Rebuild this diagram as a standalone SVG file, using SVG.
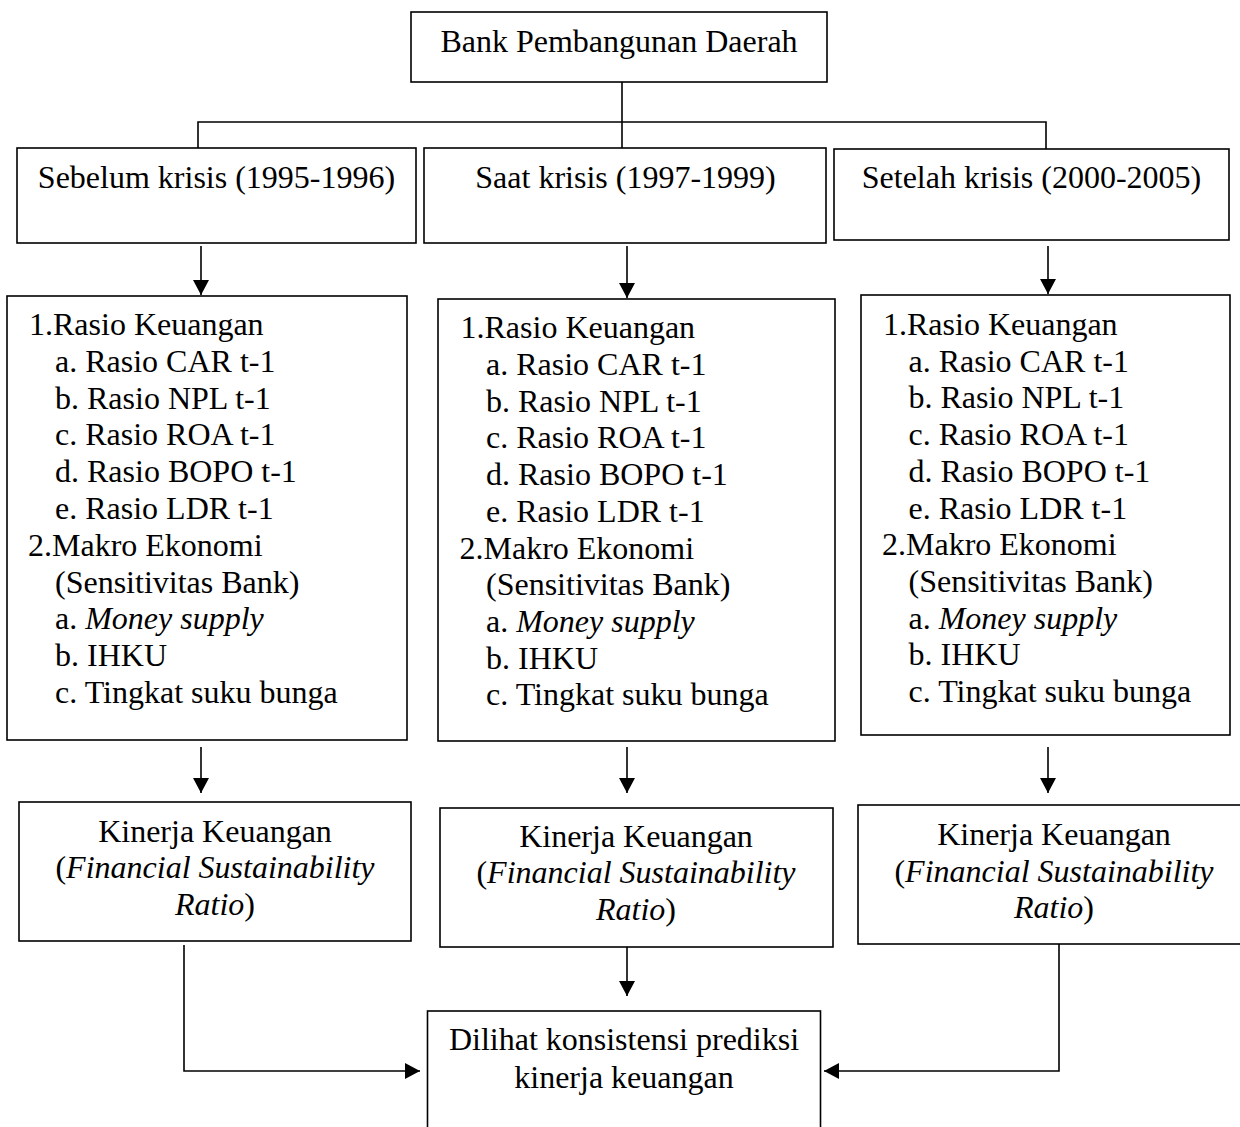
<svg xmlns="http://www.w3.org/2000/svg" width="1240" height="1127" viewBox="0 0 1240 1127">
<style>
  .box { fill: #ffffff; stroke: #000000; stroke-width: 1.6; }
  .t { font-family: "Liberation Serif", "Times New Roman", serif; font-size: 32px; fill: #000000; }
  .c { text-anchor: middle; }
  .i { font-style: italic; }
  .ln { fill: none; stroke: #000000; stroke-width: 1.6; }
</style>
<defs>
  <marker id="arr" viewBox="0 0 15 16" markerUnits="userSpaceOnUse" markerWidth="15" markerHeight="16" refX="15" refY="8" orient="auto">
    <path d="M0,0 L15,8 L0,16 z" fill="#000000"/>
  </marker>
</defs>
<rect width="1240" height="1127" fill="#ffffff"/>

<g id="connectors">
  <path class="ln" d="M622,82 V148"/>
  <path class="ln" d="M198,148 V122 H1046 V149"/>
  <path class="ln" d="M201,246 V295" marker-end="url(#arr)"/>
  <path class="ln" d="M627,246 V298" marker-end="url(#arr)"/>
  <path class="ln" d="M1048,246 V294" marker-end="url(#arr)"/>
  <path class="ln" d="M201,747 V793" marker-end="url(#arr)"/>
  <path class="ln" d="M627,747 V793" marker-end="url(#arr)"/>
  <path class="ln" d="M1048,747 V793" marker-end="url(#arr)"/>
  <path class="ln" d="M627,947 V996" marker-end="url(#arr)"/>
  <path class="ln" d="M184,945 V1071 H420" marker-end="url(#arr)"/>
  <path class="ln" d="M1059,944 V1071 H824" marker-end="url(#arr)"/>
</g>

<g id="bank">
  <rect class="box" x="411" y="12" width="416" height="70"/>
  <text class="t c" x="619" y="52">Bank Pembangunan Daerah</text>
</g>

<g id="sebelum">
  <rect class="box" x="17" y="148" width="399" height="95"/>
  <text class="t c" x="216.5" y="188">Sebelum krisis (1995-1996)</text>
</g>
<g id="saat">
  <rect class="box" x="424" y="148" width="402" height="95"/>
  <text class="t c" x="625.5" y="188">Saat krisis (1997-1999)</text>
</g>
<g id="setelah">
  <rect class="box" x="834" y="149" width="395" height="91"/>
  <text class="t c" x="1031.5" y="188">Setelah krisis (2000-2005)</text>
</g>

<g id="var-sebelum">
  <rect class="box" x="7" y="296" width="400" height="444"/>
  <text class="t" x="29" y="335">1.Rasio Keuangan</text>
  <text class="t" x="55" y="371.8">a. Rasio CAR t-1</text>
  <text class="t" x="55" y="408.6">b. Rasio NPL t-1</text>
  <text class="t" x="55" y="445.4">c. Rasio ROA t-1</text>
  <text class="t" x="55" y="482.2">d. Rasio BOPO t-1</text>
  <text class="t" x="55" y="519">e. Rasio LDR t-1</text>
  <text class="t" x="28" y="555.8">2.Makro Ekonomi</text>
  <text class="t" x="55" y="592.6">(Sensitivitas Bank)</text>
  <text class="t" x="55" y="629.4">a. <tspan class="i">Money supply</tspan></text>
  <text class="t" x="55" y="666.2">b. IHKU</text>
  <text class="t" x="55" y="703">c. Tingkat suku bunga</text>
</g>

<g id="var-saat">
  <rect class="box" x="438" y="299" width="397" height="442"/>
  <text class="t" x="460.5" y="338.3">1.Rasio Keuangan</text>
  <text class="t" x="486" y="375">a. Rasio CAR t-1</text>
  <text class="t" x="486" y="411.7">b. Rasio NPL t-1</text>
  <text class="t" x="486" y="448.4">c. Rasio ROA t-1</text>
  <text class="t" x="486" y="485.1">d. Rasio BOPO t-1</text>
  <text class="t" x="486" y="521.8">e. Rasio LDR t-1</text>
  <text class="t" x="459.5" y="558.5">2.Makro Ekonomi</text>
  <text class="t" x="486" y="595.2">(Sensitivitas Bank)</text>
  <text class="t" x="486" y="631.9">a. <tspan class="i">Money supply</tspan></text>
  <text class="t" x="486" y="668.6">b. IHKU</text>
  <text class="t" x="486" y="705.3">c. Tingkat suku bunga</text>
</g>

<g id="var-setelah">
  <rect class="box" x="861" y="295" width="369" height="440"/>
  <text class="t" x="883" y="335">1.Rasio Keuangan</text>
  <text class="t" x="908.5" y="371.7">a. Rasio CAR t-1</text>
  <text class="t" x="908.5" y="408.4">b. Rasio NPL t-1</text>
  <text class="t" x="908.5" y="445.1">c. Rasio ROA t-1</text>
  <text class="t" x="908.5" y="481.8">d. Rasio BOPO t-1</text>
  <text class="t" x="908.5" y="518.5">e. Rasio LDR t-1</text>
  <text class="t" x="882" y="555.2">2.Makro Ekonomi</text>
  <text class="t" x="908.5" y="591.9">(Sensitivitas Bank)</text>
  <text class="t" x="908.5" y="628.6">a. <tspan class="i">Money supply</tspan></text>
  <text class="t" x="908.5" y="665.3">b. IHKU</text>
  <text class="t" x="908.5" y="702">c. Tingkat suku bunga</text>
</g>

<g id="kinerja-sebelum">
  <rect class="box" x="19" y="802" width="392" height="139"/>
  <text class="t c" x="215" y="841.7">Kinerja Keuangan</text>
  <text class="t c" x="215" y="878.3">(<tspan class="i">Financial Sustainability</tspan></text>
  <text class="t c" x="215" y="915"><tspan class="i">Ratio</tspan>)</text>
</g>
<g id="kinerja-saat">
  <rect class="box" x="440" y="808" width="393" height="139"/>
  <text class="t c" x="636" y="846.7">Kinerja Keuangan</text>
  <text class="t c" x="636" y="883.3">(<tspan class="i">Financial Sustainability</tspan></text>
  <text class="t c" x="636" y="920"><tspan class="i">Ratio</tspan>)</text>
</g>
<g id="kinerja-setelah">
  <rect class="box" x="858" y="805" width="394" height="139"/>
  <text class="t c" x="1054" y="845">Kinerja Keuangan</text>
  <text class="t c" x="1054" y="881.7">(<tspan class="i">Financial Sustainability</tspan></text>
  <text class="t c" x="1054" y="918.3"><tspan class="i">Ratio</tspan>)</text>
</g>

<g id="konsistensi">
  <rect class="box" x="427.5" y="1011" width="393" height="140"/>
  <text class="t c" x="624" y="1050">Dilihat konsistensi prediksi</text>
  <text class="t c" x="624" y="1088">kinerja keuangan</text>
</g>
</svg>
